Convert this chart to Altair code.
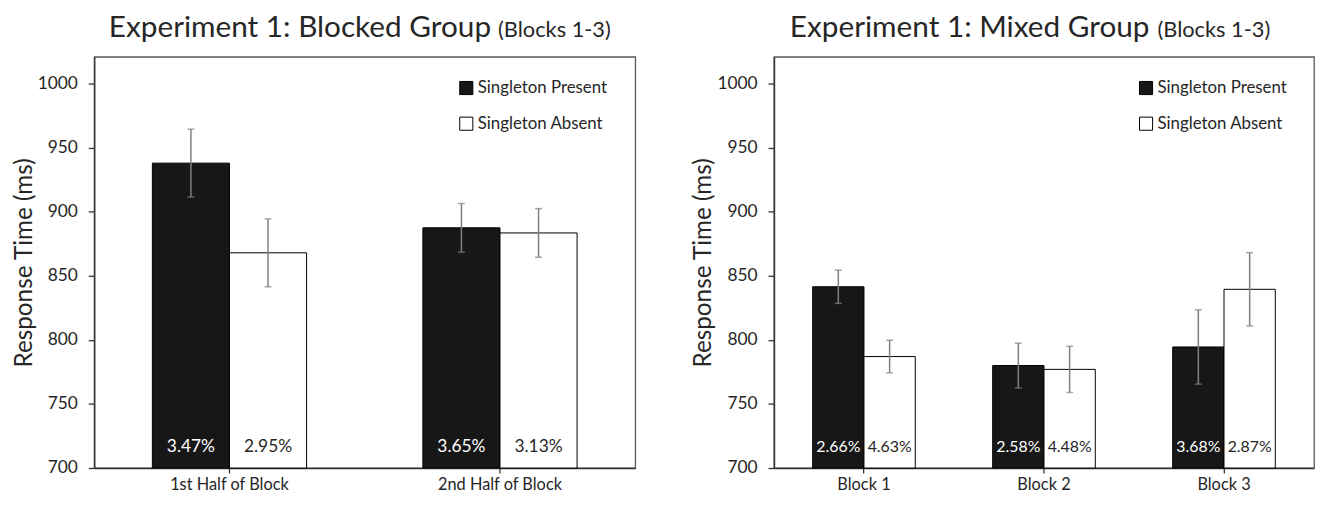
import altair as alt
import pandas as pd

conditions = ["Singleton Present", "Singleton Absent"]

blocked_title = "Experiment 1: Blocked Group"
mixed_title = "Experiment 1: Mixed Group"
paren_title = "(Blocks 1-3)"
y_title = "Response Time (ms)"

blocked_categories = ["1st Half of Block", "2nd Half of Block"]
blocked_present_rt = [938, 887.5]
blocked_absent_rt = [868, 883.5]
blocked_present_se = [26.5, 19]
blocked_absent_se = [26.5, 19]
blocked_present_err = ["3.47%", "3.65%"]
blocked_absent_err = ["2.95%", "3.13%"]

mixed_categories = ["Block 1", "Block 2", "Block 3"]
mixed_present_rt = [841.5, 780, 794.5]
mixed_absent_rt = [787, 777, 839.5]
mixed_present_se = [13, 17.5, 29]
mixed_absent_se = [12.7, 18, 28.6]
mixed_present_err = ["2.66%", "2.58%", "3.68%"]
mixed_absent_err = ["4.63%", "4.48%", "2.87%"]

y_domain = [700, 1021]
y_ticks = list(range(700, 1001, 25))

FONT = "Lato"
INK = "#262626"


def build_df(cats, p_rt, a_rt, p_se, a_se, p_err, a_err):
    rows = []
    for i, c in enumerate(cats):
        rows.append(dict(category=c, condition=conditions[0], rt=p_rt[i],
                         lo=p_rt[i] - p_se[i], hi=p_rt[i] + p_se[i], pct=p_err[i]))
        rows.append(dict(category=c, condition=conditions[1], rt=a_rt[i],
                         lo=a_rt[i] - a_se[i], hi=a_rt[i] + a_se[i], pct=a_err[i]))
    return pd.DataFrame(rows)


def panel(df, cats, width, main_title, main_end_x, paren_x, pct_size, legend_x):
    x = alt.X("category:N", sort=cats,
              scale=alt.Scale(paddingInner=0.43, paddingOuter=0.215),
              axis=alt.Axis(title=None, labelAngle=0, tickSize=5, labelPadding=4,
                            labelFontSize=16.5))
    xo = alt.XOffset("condition:N", sort=conditions,
                     scale=alt.Scale(paddingInner=0, paddingOuter=0))
    yscale = alt.Scale(domain=y_domain, nice=False, zero=False)
    yaxis = alt.Axis(values=y_ticks,
                     labelExpr="datum.value % 50 === 0 ? format(datum.value, 'd') : ''",
                     tickSize={"condition": {"test": "datum.value % 50 === 0", "value": 6}, "value": 4},
                     labelPadding=11, labelFontSize=17.5, titleFontSize=24.5,
                     titleFontWeight="normal", titlePadding=1, grid=False)
    base = alt.Chart(df)
    bars = base.mark_bar(stroke="black", strokeWidth=1).encode(
        x=x, xOffset=xo,
        y=alt.Y("rt:Q", scale=yscale, axis=yaxis, title=y_title),
        y2=alt.datum(700),
        fill=alt.Fill("condition:N", sort=conditions,
                      scale=alt.Scale(domain=conditions, range=["#171717", "#ffffff"]),
                      legend=alt.Legend(title=None, orient="none", legendX=legend_x, legendY=23,
                                        symbolType="square", symbolSize=175,
                                        symbolStrokeColor="black", symbolStrokeWidth=1,
                                        labelFont=FONT, labelFontSize=17, labelColor=INK,
                                        labelOffset=3, rowPadding=17)),
    )
    rules = base.mark_rule(color="#808080", strokeWidth=1.5).encode(
        x=x, xOffset=xo,
        y=alt.Y("lo:Q", scale=yscale, title=y_title), y2="hi:Q")
    cap_lo = base.mark_tick(color="#808080", thickness=1.5, size=7).encode(
        x=x, xOffset=xo, y=alt.Y("lo:Q", scale=yscale, title=y_title))
    cap_hi = base.mark_tick(color="#808080", thickness=1.5, size=7).encode(
        x=x, xOffset=xo, y=alt.Y("hi:Q", scale=yscale, title=y_title))
    labels = base.mark_text(font=FONT, fontSize=pct_size, baseline="middle", dy=-21).encode(
        x=x, xOffset=xo, y=alt.datum(700), text="pct:N",
        color=alt.condition(alt.datum.condition == conditions[0],
                            alt.value("white"), alt.value(INK)))
    t1 = alt.Chart(pd.DataFrame({"t": [main_title]})).mark_text(
        font=FONT, fontSize=30, align="right", baseline="alphabetic", color=INK
    ).encode(x=alt.value(main_end_x), y=alt.value(-20), text="t:N")
    t2 = alt.Chart(pd.DataFrame({"t": [paren_title]})).mark_text(
        font=FONT, fontSize=22, align="left", baseline="alphabetic", color=INK
    ).encode(x=alt.value(paren_x), y=alt.value(-20), text="t:N")
    return alt.layer(bars, rules, cap_lo, cap_hi, labels, t1, t2).properties(
        width=width, height=415)


left = panel(build_df(blocked_categories, blocked_present_rt, blocked_absent_rt,
                      blocked_present_se, blocked_absent_se,
                      blocked_present_err, blocked_absent_err),
             blocked_categories, 546, blocked_title, 400.5, 407.5, 17.5, 367)
right = panel(build_df(mixed_categories, mixed_present_rt, mixed_absent_rt,
                       mixed_present_se, mixed_absent_se,
                       mixed_present_err, mixed_absent_err),
              mixed_categories, 545, mixed_title, 379, 387, 16, 367)

chart = alt.hconcat(left, right, spacing=54).resolve_scale(
    fill="independent", x="independent", y="independent", xOffset="independent"
).resolve_legend(fill="independent").properties(
    padding={"left": 2, "top": 2, "right": 0, "bottom": 0}
).configure(font=FONT).configure_view(
    stroke="#595959", strokeWidth=1.3
).configure_axis(
    domainColor="#333333", domainWidth=1.5, tickColor="#333333", tickWidth=1.3,
    labelColor=INK, titleColor=INK, labelFont=FONT, titleFont=FONT
)

chart.save("out.html", embed_options={"renderer": "svg", "actions": False})
